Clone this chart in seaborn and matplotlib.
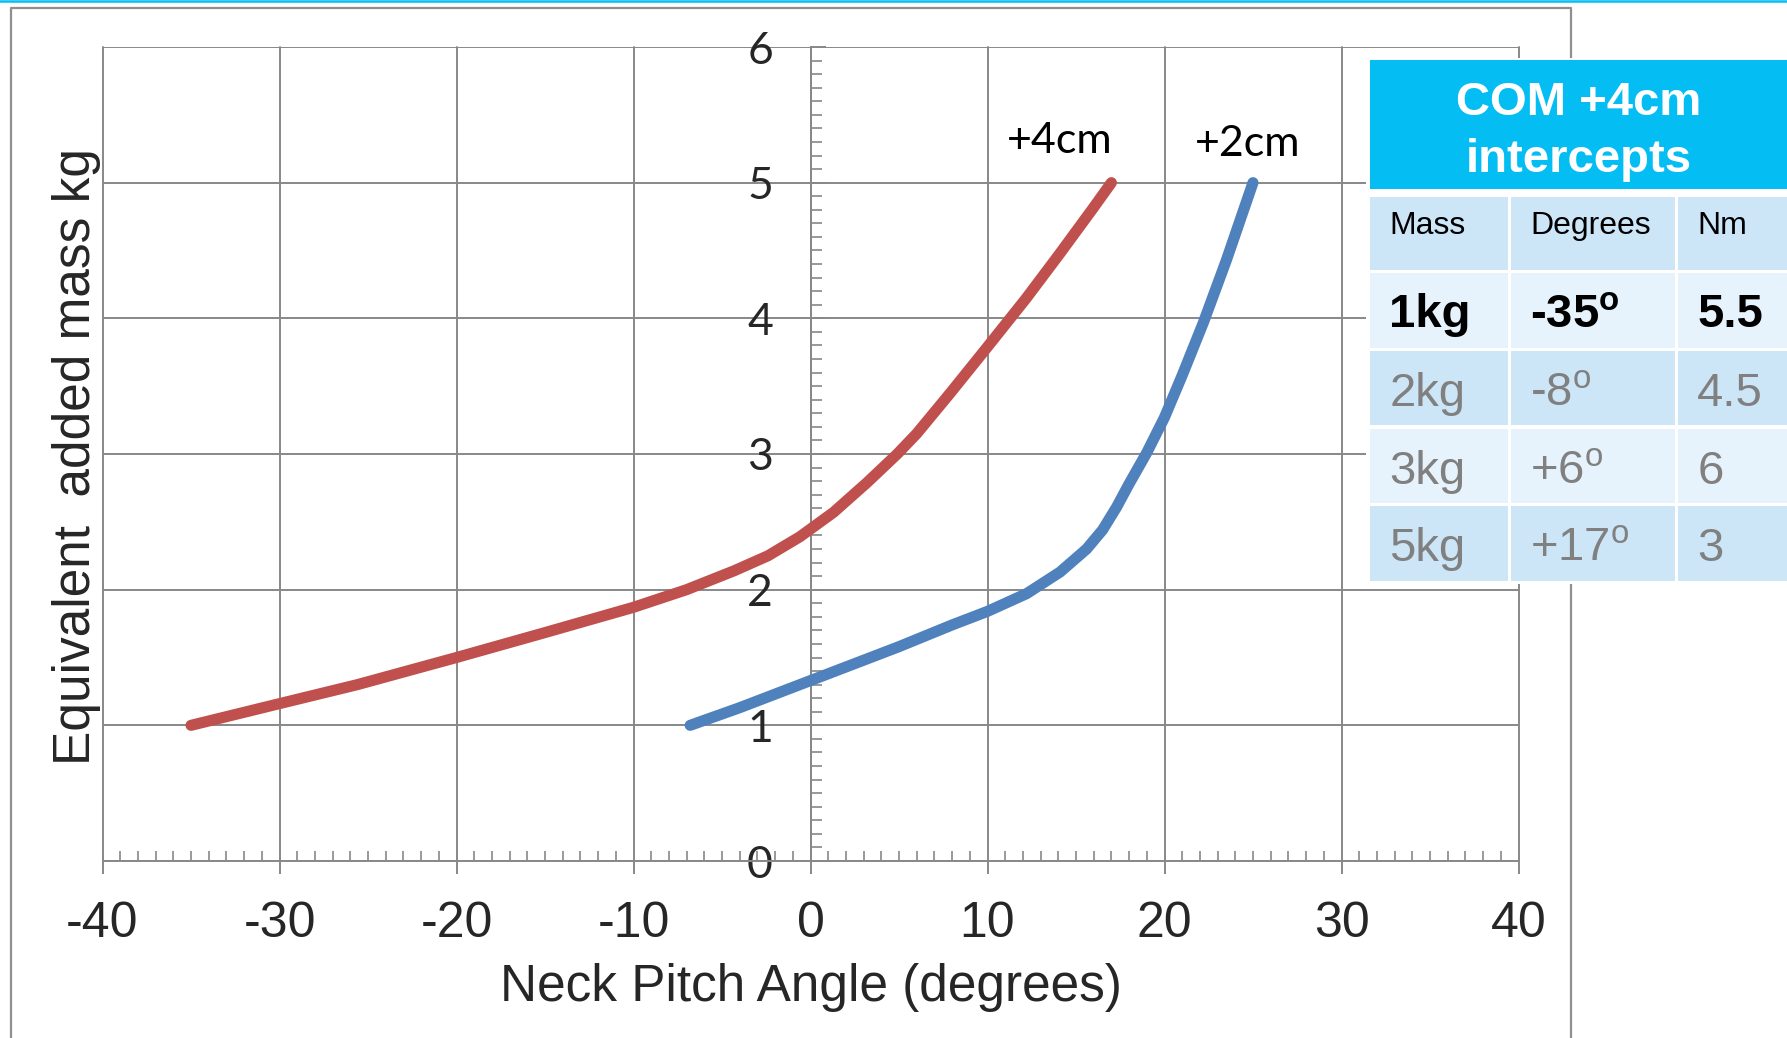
import matplotlib
matplotlib.use("Agg")
import matplotlib.pyplot as plt
import seaborn as sns
from matplotlib.patches import Rectangle
from matplotlib.lines import Line2D
from matplotlib.ticker import MultipleLocator

# curve data
red_x = [-35, -30, -25.6, -20, -15.1, -10, -7, -4.3, -2.4, -0.6, 1.3, 3.2, 4.9, 6.0, 7.9,
         10, 12.2, 14.1, 15.9, 17.0]
red_y = [1.0, 1.16, 1.30, 1.50, 1.68, 1.87, 2.00, 2.14, 2.25, 2.39, 2.57, 2.79, 3.00, 3.15, 3.45,
         3.79, 4.15, 4.48, 4.80, 5.0]
blue_x = [-6.8, -4, 0, 5, 8, 10, 12.2, 14.1, 15.6, 16.5, 17.3, 18.0, 19.0, 20.0, 21.0,
          22.2, 23.5, 25.0]
blue_y = [1.0, 1.13, 1.33, 1.58, 1.74, 1.84, 1.97, 2.13, 2.30, 2.44, 2.61, 2.78, 3.01, 3.27, 3.58,
          3.97, 4.43, 5.0]
curve_names = ['+4cm', '+2cm']
curve_label_pos = [(14.1, 5.22), (24.7, 5.2)]

x_ticks = [-40, -30, -20, -10, 0, 10, 20, 30, 40]
y_ticks = [0, 1, 2, 3, 4, 5, 6]

# intercept table
table_title = ['COM +4cm', 'intercepts']
table_cols = ['Mass', 'Degrees', 'Nm']
mass_vals = ['1kg', '2kg', '3kg', '5kg']
deg_vals = ['-35', '-8', '+6', '+17']
nm_vals = ['5.5', '4.5', '6', '3']

RED = '#C0504D'
BLUE = '#4F81BD'
GRID = '#888888'
CYAN = '#03BDF3'

sns.set_style("white")
plt.rcParams['font.family'] = ['Liberation Sans', 'DejaVu Sans']
plt.rcParams['mathtext.fontset'] = 'custom'

W, H = 1787, 1038
fig = plt.figure(figsize=(W / 100, H / 100), dpi=100)

def fx(p):
    return p / W

def fy(p):
    return 1 - p / H

ax = fig.add_axes([fx(102.5), fy(861), fx(1416), 814 / H])

for xs, ys, c in [(red_x, red_y, RED), (blue_x, blue_y, BLUE)]:
    sns.lineplot(x=xs, y=ys, sort=False, estimator=None, color=c, linewidth=8,
                 solid_capstyle='round', solid_joinstyle='round', ax=ax, zorder=3)

ax.set_xlim(-40, 40)
ax.set_ylim(0, 6)
ax.set_xticks(x_ticks)
ax.set_yticks(y_ticks)
ax.xaxis.set_minor_locator(MultipleLocator(1))
ax.yaxis.set_minor_locator(MultipleLocator(0.1))
ax.grid(True, which='major', color=GRID, linewidth=1.4)
for gl in ax.get_xgridlines() + ax.get_ygridlines():
    gl.set_clip_on(False)

for s in ['top', 'right']:
    ax.spines[s].set_visible(False)
ax.spines['left'].set_position(('data', 0))
for s in ['left', 'bottom']:
    ax.spines[s].set_color(GRID)
    ax.spines[s].set_linewidth(1.4)

ax.tick_params(which='both', bottom=True, left=True)
ax.tick_params(axis='x', which='major', direction='out', length=9.5, width=1.4,
               color=GRID, pad=19, labelsize=36)
ax.tick_params(axis='x', which='minor', direction='in', length=7, width=1.2, color=GRID)
ax.tick_params(axis='y', which='major', direction='in', length=11, width=1.4,
               color=GRID, pad=27, labelsize=32)
ax.tick_params(axis='y', which='minor', direction='in', length=8, width=1.2, color=GRID)
ax.set_xticklabels([str(v) for v in x_ticks])
for t in ax.get_yticklabels():
    t.set_fontfamily(['Lato', 'DejaVu Sans'])

ax.set_xlabel('Neck Pitch Angle (degrees)', fontsize=37, va='baseline')
ax.xaxis.set_label_coords(0.5, (fy(1000.7) - fy(861)) / (814 / H))
ax.set_ylabel('Equivalent  added mass kg', fontsize=37, va='baseline')
ax.yaxis.set_label_coords((90 - 102.5) / 1416, 0.4975)

for name, (tx, ty) in zip(curve_names, curve_label_pos):
    ax.text(tx, ty, name, fontsize=31, family=['Lato', 'DejaVu Sans'],
            ha='center', va='baseline', color='black')

# slide frame and top rule
fig.add_artist(Line2D([0, 1], [fy(1), fy(1)], transform=fig.transFigure, color=CYAN, linewidth=1.8))
fig.add_artist(Line2D([fx(11), fx(11), fx(1571), fx(1571)], [0, fy(7.5), fy(7.5), 0],
                      transform=fig.transFigure, color='#8F8F8F', linewidth=1.6))

# table
def cell(x0, y0, x1, y1, color, z=5):
    fig.add_artist(Rectangle((fx(x0), fy(y1)), fx(x1 - x0), (y1 - y0) / H,
                             transform=fig.transFigure, facecolor=color,
                             edgecolor='none', zorder=z))

cell(1366, 58, W, 584, 'white', z=4.9)
cell(1370, 60, W, 188.7, CYAN)
fig.text(fx(1578.5), fy(114.8), table_title[0], fontsize=34, fontweight='bold',
         color='white', ha='center', va='baseline', zorder=6)
fig.text(fx(1578.5), fy(171.5), table_title[1], fontsize=34, fontweight='bold',
         color='white', ha='center', va='baseline', zorder=6)

col_edges = [(1370, 1508.3), (1511, 1675.3), (1678.3, W)]
row_edges = [(197, 270), (272.5, 347.5), (350.6, 424.8), (428.6, 503), (506, 581)]
row_colors = ['#CCE6F8', '#E7F3FC', '#CCE6F8', '#E7F3FC', '#CCE6F8']
text_x = [1389.3, 1530, 1697.3]
baselines = [234.2, 327.2, 405.7, 483.5, 560.7]

rows = [table_cols] + [[m, d + r'$^{\mathregular{o}}$', n]
                       for m, d, n in zip(mass_vals, deg_vals, nm_vals)]
for i, ((ry0, ry1), rc, row) in enumerate(zip(row_edges, row_colors, rows)):
    for (cx0, cx1), tx, txt in zip(col_edges, text_x, row):
        cell(cx0, ry0, cx1, ry1, rc)
        if i == 0:
            kw = dict(fontsize=23, color='black')
        elif i == 1:
            kw = dict(fontsize=34, color='black', fontweight='bold')
        else:
            kw = dict(fontsize=34, color='#808080')
        fig.text(fx(tx), fy(baselines[i]), txt, ha='left', va='baseline', zorder=6, **kw)

fig.savefig('out.png', dpi=100)
